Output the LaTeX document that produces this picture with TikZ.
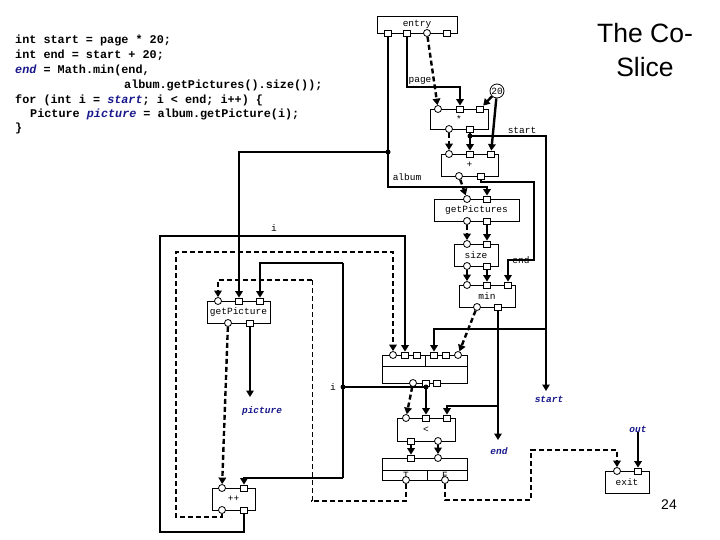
\documentclass[tikz,border=0pt]{standalone}
\usepackage{fontspec}
\setmainfont{Liberation Sans}
\newfontfamily\monof{Liberation Mono}
\usetikzlibrary{arrows.meta}
\definecolor{codeblue}{RGB}{24,24,140}
\newcommand\labf{\monof\fontsize{9.5}{10}\selectfont}
\newcommand\blabf{\monof\bfseries\itshape\fontsize{9.5}{10}\selectfont}
\newcommand\codefnt{\monof\bfseries\fontsize{11.8}{13}\selectfont}
\newcommand\cv[1]{\textcolor{codeblue}{\itshape #1}}
\begin{document}
\begin{tikzpicture}[x=1pt,y=-1pt,
  box/.style={draw,line width=0.8pt,inner sep=0pt,font=\labf},
  sq/.style={draw,fill=white,line width=0.8pt,minimum width=7pt,minimum height=6pt,inner sep=0pt},
  cp/.style={draw,fill=white,line width=0.8pt,circle,minimum size=7pt,inner sep=0pt},
  wire/.style={line width=2.4pt},
  thinw/.style={line width=1.2pt},
  dw/.style={line width=2.4pt,dash pattern=on 5pt off 3pt},
  tdw/.style={line width=1pt,dash pattern=on 5pt off 3pt},
  tip/.style={-{Triangle[width=7.5pt,length=6.5pt]}},
  dotn/.style={circle,fill=black,minimum size=5pt,inner sep=0pt},
  lbl/.style={font=\labf,inner sep=0pt},
  blbl/.style={font=\blabf,text=codeblue,inner sep=0pt},
  code/.style={font=\codefnt,inner sep=0pt,anchor=base west},
]
\fill[white] (0,0) rectangle (720,540);
\useasboundingbox (0,0) rectangle (720,540);

% code
\node[code] (c1) at (15,44) {int start = page * 20;};
\node[code] (c2) at (15,59) {int end = start + 20;};
\node[code] (c3) at (15,74) {\cv{end} = Math.min(end,};
\node[code] (c4) at (124,89) {album.getPictures().size());};
\node[code] (c5) at (15,104) {for (int i = \cv{start}; i < end; i++) \{};
\node[code] (c6) at (30,118) {Picture \cv{picture} = album.getPicture(i);};
\node[code] (c7) at (15,132) {\}};

% title
\node[font=\fontsize{26.5}{34}\selectfont,align=center,inner sep=0pt] (title) at (645,50) {The Co-\\Slice};
\node[font=\fontsize{14}{16}\selectfont,inner sep=0pt] (pnum) at (669,505) {24};

% boxes
\node[box,minimum width=80pt,minimum height=17pt] (entry) at (417,24.5) {entry};
\node[box,minimum width=58pt,minimum height=20pt] (mul) at (459,119) {*};
\node[box,minimum width=57pt,minimum height=22pt] (plus) at (469.5,165) {+};
\node[box,minimum width=85pt,minimum height=22pt] (gps) at (476.5,210) {getPictures};
\node[box,minimum width=44pt,minimum height=22pt] (size) at (476,255) {size};
\node[box,minimum width=56pt,minimum height=22pt] (min) at (487,296) {min};
\node[box,minimum width=85pt,minimum height=28pt] (loop) at (424.5,369) {};
\draw[line width=0.8pt] (382,366) -- (467,366) (425,355) -- (425,366);
\node[box,minimum width=63pt,minimum height=22pt] (gp) at (238.5,312) {getPicture};
\node[box,minimum width=58pt,minimum height=23pt] (lt) at (426,429.5) {<};
\node[box,minimum width=85pt,minimum height=22pt] (br) at (424.5,469) {};
\draw[line width=0.8pt] (382,470) -- (467,470) (427,470) -- (427,480);
\node[lbl] (tl) at (406,475) {T};
\node[lbl] (fl) at (445,475) {F};
\node[box,minimum width=43pt,minimum height=22pt] (inc) at (233.5,499) {++};
\node[box,minimum width=44pt,minimum height=22pt] (exit) at (627,482) {exit};
\node[draw,circle,minimum size=14pt,inner sep=0pt,font=\labf,line width=0.8pt] (twenty) at (497,91) {20};

% ports
\node[sq] (e1) at (388,33) {};
\node[sq] (e2) at (407,33) {};
\node[cp] (e3) at (427,33) {};
\node[sq] (e4) at (447,33) {};
\node[cp] (m1) at (438,109) {};
\node[sq] (m2) at (460,109) {};
\node[sq] (m3) at (480,109) {};
\node[cp] (m4) at (449,129) {};
\node[sq] (m5) at (470,129) {};
\node[cp] (p1) at (449,154) {};
\node[sq] (p2) at (470,154) {};
\node[sq] (p3) at (491,154) {};
\node[cp] (p4) at (459,176) {};
\node[sq] (p5) at (481,176) {};
\node[cp] (g1) at (467,199) {};
\node[sq] (g2) at (487,199) {};
\node[cp] (g3) at (467,221) {};
\node[sq] (g4) at (487,221) {};
\node[cp] (s1) at (467,244) {};
\node[sq] (s2) at (487,244) {};
\node[cp] (s3) at (467,266) {};
\node[sq] (s4) at (487,266) {};
\node[cp] (n1) at (467,285) {};
\node[sq] (n2) at (487,285) {};
\node[sq] (n3) at (508,285) {};
\node[cp] (n4) at (477,307) {};
\node[sq] (n5) at (498,307) {};
\node[cp] (l1) at (393,355) {};
\node[sq] (l2) at (405,355) {};
\node[sq] (l3) at (417,355) {};
\node[sq] (l4) at (434,355) {};
\node[sq] (l5) at (446,355) {};
\node[cp] (l6) at (458,355) {};
\node[cp] (l7) at (413,383) {};
\node[sq] (l8) at (426,383) {};
\node[sq] (l9) at (437,383) {};
\node[cp] (q1) at (218,301) {};
\node[sq] (q2) at (239,301) {};
\node[sq] (q3) at (260,301) {};
\node[cp] (q4) at (228,323) {};
\node[sq] (q5) at (250,323) {};
\node[cp] (t1) at (406,418) {};
\node[sq] (t2) at (426,418) {};
\node[sq] (t3) at (447,418) {};
\node[sq] (t4) at (411,441) {};
\node[cp] (t5) at (438,441) {};
\node[sq] (b1) at (411,458) {};
\node[cp] (b2) at (438,458) {};
\node[cp] (b3) at (406,480) {};
\node[cp] (b4) at (445,480) {};
\node[cp] (i1) at (222,488) {};
\node[sq] (i2) at (244,488) {};
\node[cp] (i3) at (222,510) {};
\node[sq] (i4) at (244,510) {};
\node[cp] (x1) at (617,471) {};
\node[sq] (x2) at (638,471) {};

% labels
\node[lbl] (pagel) at (420,81) {page};
\node[lbl] (albuml) at (407,177) {album};
\node[lbl] (startl) at (522,130) {start};
\node[lbl] (endl) at (521,260) {end};
\node[lbl] (il1) at (274,228) {i};
\node[lbl] (il2) at (333,387) {i};
\node[blbl] (startb) at (549,399) {start};
\node[blbl] (endb) at (499,451) {end};
\node[blbl] (picb) at (262,411) {picture};
\node[blbl] (outb) at (638,429) {out};

% coordinates
\coordinate (albdot) at (388,152);
\coordinate (albtop) at (239,152);
\coordinate (sdot) at (470,136);
\coordinate (sbr) at (546,329);
\coordinate (send) at (546,391);
\coordinate (ebr) at (498,406);
\coordinate (eend) at (498,440);
\coordinate (pend) at (250,397);
\coordinate (itop) at (343,263);
\coordinate (ibot) at (343,478);
\coordinate (idot) at (343,387);
\coordinate (jdot) at (426,387);

% wires
\draw[wire,tip] (e1) -- (388,187) -| (g2);
\draw[wire,tip] (albdot) -- (albtop) -- (q2);
\draw[wire,tip] (e2) -- (407,87) -| (m2);
\draw[dw,tip] (e3) -- (m1);
\draw[wire,tip] (twenty) -- (m3);
\draw[wire,tip] (twenty) -- (p3);
\draw[dw,tip] (m4) -- (p1);
\draw[wire,tip] (m5) -- (p2);
\draw[thinw,tip] (sdot) -- (546,136) -- (send);
\draw[wire,tip] (sbr) -| (l4);
\draw[dw,tip] (p4) -- (g1);
\draw[thinw,tip] (p5) -- (481,182) -- (534,182) -- (534,260) -- (508,260) -- (n3);
\draw[dw,tip] (g3) -- (s1);
\draw[wire,tip] (g4) -- (s2);
\draw[dw,tip] (s3) -- (n1);
\draw[wire,tip] (s4) -- (n2);
\draw[dw,tip] (n4) -- (l6);
\draw[wire,tip] (n5) -- (eend);
\draw[wire,tip] (ebr) -| (t3);
\draw[wire,tip] (i4) -- (244,532) -- (160,532) -- (160,236) -| (l2);
\draw[dw,tip] (i3) -- (222,517) -- (176,517) -- (176,252) -| (l1);
\draw[wire,tip] (l8) -- (t2);
\draw[wire] (idot) -- (jdot);
\draw[wire,tip] (itop) -| (q3);
\draw[wire] (itop) -- (ibot);
\draw[wire,tip] (ibot) -| (i2);
\draw[dw,tip] (l7) -- (t1);
\draw[wire,tip] (t4) -- (b1);
\draw[wire,tip] (t5) -- (b2);
\draw[dw] (b3) -- (406,501) -- (311,501);
\draw[tdw] (312,501) -- (312,280);
\draw[dw,tip] (312,280) -| (q1);
\draw[dw,tip] (b4) -- (445,500) -- (531,500) -- (531,450) -| (x1);
\draw[wire,tip] (outb) -- (x2);
\draw[dw,tip] (q4) -- (i1);
\draw[wire,tip] (q5) -- (pend);

% dots
\node[dotn] (d1) at (albdot) {};
\node[dotn] (d2) at (sdot) {};
\node[dotn] (d3) at (idot) {};
\node[dotn] (d4) at (jdot) {};
\end{tikzpicture}
\end{document}
